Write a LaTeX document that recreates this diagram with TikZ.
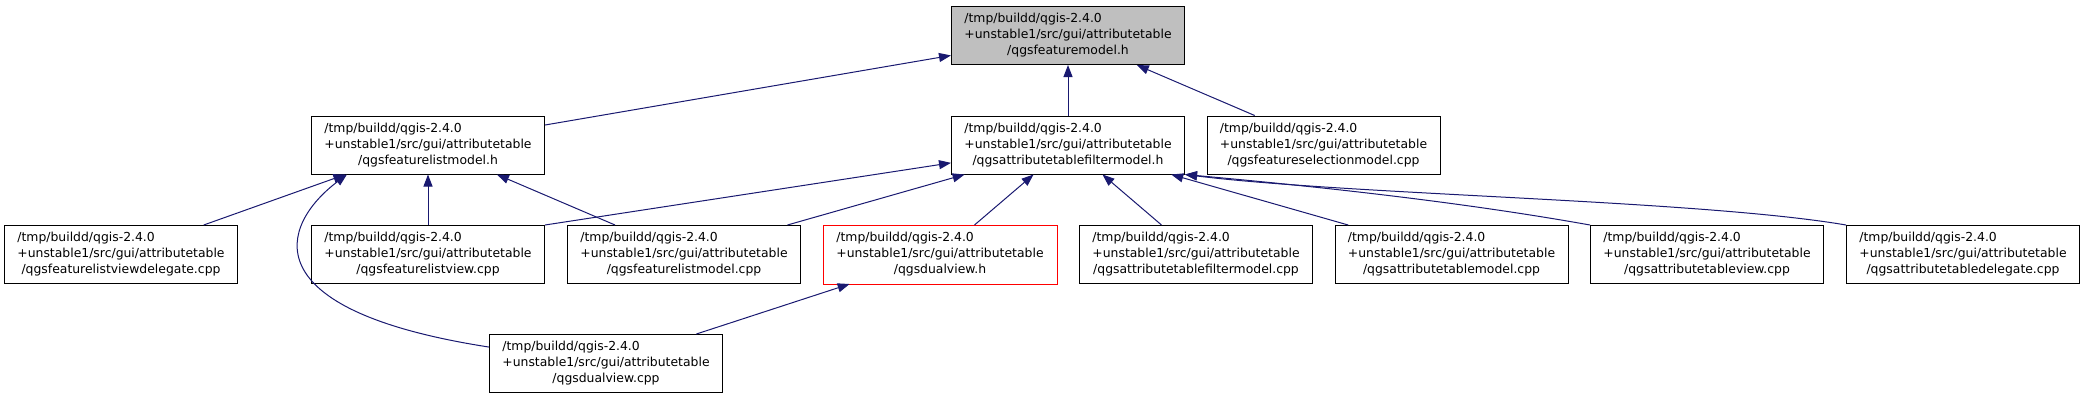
\documentclass[tikz,border=0pt]{standalone}
\usepackage{fontspec}
\usepackage{xcolor}
\usepackage{tikz}
\usetikzlibrary{arrows.meta}
\setmainfont{DejaVu Sans}

\definecolor{linkblue}{HTML}{191970}
\definecolor{boxgray}{HTML}{BFBFBF}
\newcommand{\qgsfile}[1]{\begin{tabular}{@{}l@{}}/tmp/buildd/qgis-2.4.0\\+unstable1/src/gui/attributetable\\\multicolumn{1}{@{}c@{}}{#1}\end{tabular}}

\begin{document}
\begin{tikzpicture}
  [x=1pt,y=-1pt,every node/.style={draw,rectangle,line width=1pt,minimum width=233pt,minimum height=58pt,inner sep=0pt,font=\fontsize{12.4}{16}\selectfont},
   link/.style={draw=linkblue,line width=1pt,-{Triangle[length=12pt,width=9pt]}}]
  \useasboundingbox (0,0) rectangle (2085,400);
  \node[fill=boxgray] (n1) at (1068,35.5) {\qgsfile{/qgsfeaturemodel.h}};
  \node (n2) at (428,145) {\qgsfile{/qgsfeaturelistmodel.h}};
  \node (n3) at (1068,145) {\qgsfile{/qgsattributetablefiltermodel.h}};
  \node (n4) at (1323.5,145) {\qgsfile{/qgsfeatureselectionmodel.cpp}};
  \node (n5) at (121,254.5) {\qgsfile{/qgsfeaturelistviewdelegate.cpp}};
  \node (n6) at (428,254.5) {\qgsfile{/qgsfeaturelistview.cpp}};
  \node (n7) at (684,254.5) {\qgsfile{/qgsfeaturelistmodel.cpp}};
  \node[draw=none] (n8) at (940,254.5) {\qgsfile{/qgsdualview.h}};
  \node (n9) at (1196,254.5) {\qgsfile{/qgsattributetablefiltermodel.cpp}};
  \node (n10) at (1451.5,254.5) {\qgsfile{/qgsattributetablemodel.cpp}};
  \node (n11) at (1707,254.5) {\qgsfile{/qgsattributetableview.cpp}};
  \node (n12) at (1963,254.5) {\qgsfile{/qgsattributetabledelegate.cpp}};
  \node (n13) at (606,363.5) {\qgsfile{/qgsdualview.cpp}};
  % red frame of the current file
  \draw[red,line width=1pt] (n8.north west) rectangle (n8.south east);

  \foreach \from/\to in {n2/n1,n3/n1,n4/n1,n5/n2,n6/n2,n7/n2,n7/n3,n8/n3,n9/n3,n10/n3,n13/n8}
    \draw[link] (\from) -- (\to);
  \draw[link] (n6.north east) -- (n3);
  \draw[link] (n13.172) .. controls (250,310) and (280,225) .. (n2.-160);
  \draw[link] (n11.north west) .. controls (1450,200) and (1300,185) .. (n3.south east);
  \draw[link] (n12.north west) .. controls (1700,200) and (1350,195) .. (n3.south east);

\end{tikzpicture}
\end{document}
